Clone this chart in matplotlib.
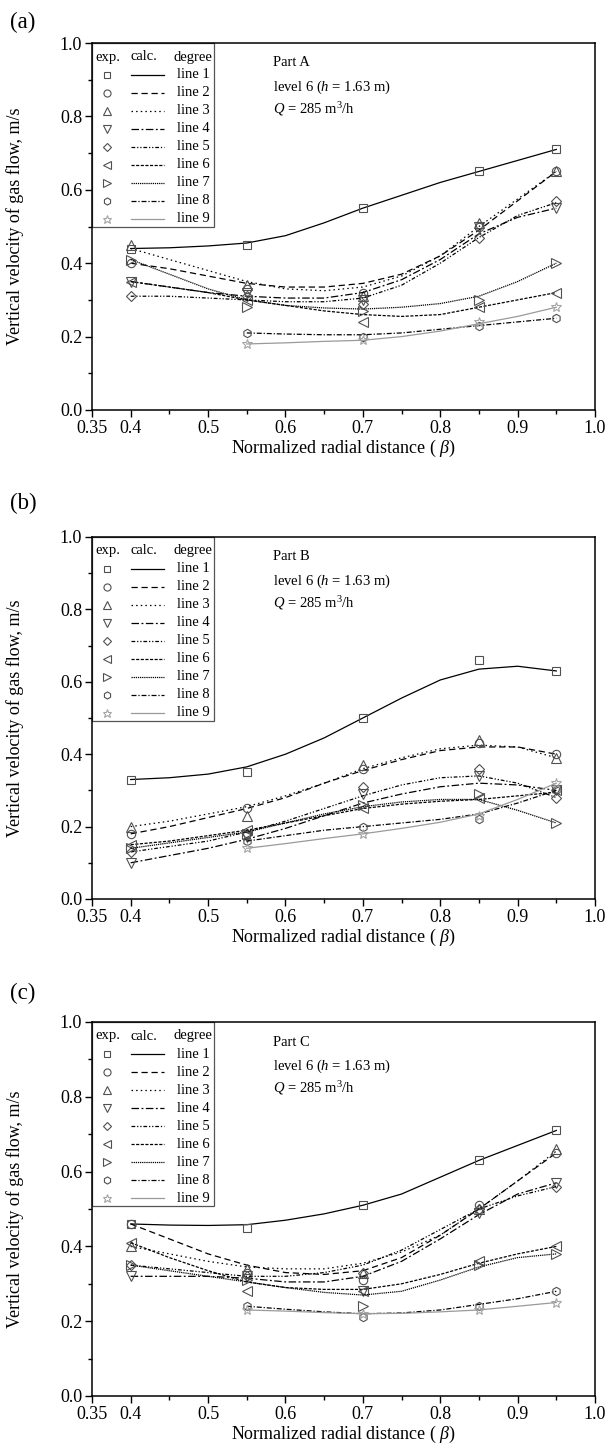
import numpy as np
import matplotlib
matplotlib.use('Agg')
import matplotlib.pyplot as plt
from matplotlib.patches import Rectangle

plt.rcParams['font.family'] = ['Liberation Serif', 'DejaVu Serif']
plt.rcParams['mathtext.fontset'] = 'custom'
plt.rcParams['mathtext.rm'] = 'Liberation Serif'
plt.rcParams['mathtext.it'] = 'Liberation Serif:italic'

nan = np.nan

beta_exp = [0.4, 0.55, 0.7, 0.85, 0.95]
beta_calc = [0.4, 0.45, 0.5, 0.55, 0.6, 0.65, 0.7, 0.75, 0.8, 0.85, 0.9, 0.95]
line_names = ['line 1', 'line 2', 'line 3', 'line 4', 'line 5',
              'line 6', 'line 7', 'line 8', 'line 9']

x_ticks = [0.35, 0.4, 0.5, 0.6, 0.7, 0.8, 0.9, 1.0]
x_ticklabels = ['0.35', '0.4', '0.5', '0.6', '0.7', '0.8', '0.9', '1.0']
y_ticks = [0.0, 0.2, 0.4, 0.6, 0.8, 1.0]
y_ticklabels = ['0.0', '0.2', '0.4', '0.6', '0.8', '1.0']

# Part A
exp_a = [
    [0.44, 0.45, 0.55, 0.65, 0.71],
    [0.40, 0.33, 0.32, 0.50, 0.65],
    [0.45, 0.34, 0.31, 0.51, 0.65],
    [0.35, 0.32, 0.30, 0.50, 0.55],
    [0.31, 0.31, 0.29, 0.47, 0.57],
    [0.35, 0.30, 0.24, 0.28, 0.32],
    [0.41, 0.28, 0.27, 0.30, 0.40],
    [nan, 0.21, 0.20, 0.23, 0.25],
    [nan, 0.18, 0.19, 0.24, 0.28],
]
calc_a = [
    [0.44, 0.442, 0.447, 0.455, 0.475, 0.51, 0.55, 0.585, 0.62, 0.65, 0.68, 0.71],
    [0.40, 0.385, 0.365, 0.345, 0.335, 0.335, 0.345, 0.37, 0.42, 0.49, 0.57, 0.65],
    [0.44, 0.41, 0.38, 0.35, 0.33, 0.325, 0.335, 0.365, 0.42, 0.50, 0.575, 0.65],
    [0.35, 0.335, 0.32, 0.31, 0.305, 0.305, 0.32, 0.355, 0.41, 0.48, 0.525, 0.55],
    [0.31, 0.31, 0.305, 0.30, 0.295, 0.295, 0.305, 0.34, 0.40, 0.47, 0.53, 0.565],
    [0.35, 0.335, 0.32, 0.30, 0.285, 0.27, 0.26, 0.255, 0.26, 0.28, 0.30, 0.32],
    [0.41, 0.37, 0.33, 0.30, 0.285, 0.278, 0.275, 0.28, 0.29, 0.31, 0.35, 0.40],
    [nan, nan, nan, 0.21, 0.207, 0.205, 0.205, 0.21, 0.22, 0.23, 0.24, 0.25],
    [nan, nan, nan, 0.18, 0.183, 0.187, 0.19, 0.20, 0.215, 0.235, 0.255, 0.28],
]

# Part B
exp_b = [
    [0.33, 0.35, 0.50, 0.66, 0.63],
    [0.18, 0.25, 0.36, 0.43, 0.40],
    [0.20, 0.23, 0.37, 0.44, 0.39],
    [0.10, 0.17, 0.29, 0.34, 0.30],
    [0.13, 0.18, 0.31, 0.36, 0.28],
    [0.15, 0.19, 0.25, 0.28, 0.30],
    [0.14, 0.18, 0.26, 0.29, 0.21],
    [nan, 0.16, 0.20, 0.22, 0.30],
    [nan, 0.14, 0.18, 0.23, 0.32],
]
calc_b = [
    [0.33, 0.335, 0.345, 0.365, 0.40, 0.445, 0.50, 0.555, 0.605, 0.635, 0.643, 0.63],
    [0.18, 0.20, 0.225, 0.25, 0.28, 0.32, 0.355, 0.385, 0.41, 0.42, 0.42, 0.40],
    [0.20, 0.215, 0.235, 0.255, 0.285, 0.32, 0.36, 0.39, 0.415, 0.425, 0.42, 0.39],
    [0.10, 0.12, 0.14, 0.165, 0.195, 0.23, 0.265, 0.29, 0.31, 0.32, 0.315, 0.30],
    [0.13, 0.145, 0.16, 0.185, 0.215, 0.25, 0.285, 0.315, 0.335, 0.34, 0.32, 0.28],
    [0.15, 0.16, 0.175, 0.19, 0.21, 0.23, 0.25, 0.262, 0.27, 0.275, 0.285, 0.295],
    [0.14, 0.155, 0.17, 0.185, 0.21, 0.235, 0.255, 0.268, 0.275, 0.275, 0.245, 0.21],
    [nan, nan, nan, 0.16, 0.175, 0.19, 0.20, 0.21, 0.22, 0.235, 0.265, 0.30],
    [nan, nan, nan, 0.14, 0.153, 0.167, 0.18, 0.195, 0.212, 0.235, 0.275, 0.32],
]

# Part C
exp_c = [
    [0.46, 0.45, 0.51, 0.63, 0.71],
    [0.46, 0.33, 0.31, 0.51, 0.65],
    [0.40, 0.34, 0.33, 0.50, 0.66],
    [0.32, 0.32, 0.28, 0.49, 0.57],
    [0.35, 0.32, 0.33, 0.50, 0.56],
    [0.41, 0.28, 0.28, 0.36, 0.40],
    [0.35, 0.31, 0.24, 0.35, 0.38],
    [nan, 0.24, 0.21, 0.24, 0.28],
    [nan, 0.23, 0.22, 0.23, 0.25],
]
calc_c = [
    [0.46, 0.457, 0.456, 0.458, 0.47, 0.487, 0.51, 0.54, 0.585, 0.63, 0.67, 0.71],
    [0.46, 0.42, 0.38, 0.35, 0.33, 0.325, 0.335, 0.37, 0.43, 0.50, 0.575, 0.65],
    [0.40, 0.38, 0.36, 0.345, 0.34, 0.34, 0.355, 0.385, 0.43, 0.50, 0.575, 0.655],
    [0.32, 0.32, 0.32, 0.315, 0.305, 0.305, 0.32, 0.36, 0.42, 0.485, 0.54, 0.57],
    [0.35, 0.34, 0.33, 0.32, 0.32, 0.33, 0.35, 0.39, 0.445, 0.50, 0.535, 0.56],
    [0.41, 0.37, 0.335, 0.305, 0.29, 0.285, 0.285, 0.30, 0.325, 0.355, 0.38, 0.40],
    [0.35, 0.335, 0.32, 0.305, 0.29, 0.277, 0.27, 0.28, 0.31, 0.345, 0.37, 0.38],
    [nan, nan, nan, 0.24, 0.232, 0.225, 0.22, 0.222, 0.23, 0.245, 0.26, 0.28],
    [nan, nan, nan, 0.23, 0.227, 0.223, 0.22, 0.221, 0.225, 0.23, 0.24, 0.25],
]

# styles
markers = ['s', 'o', '^', 'v', 'D', '<', '>', 'h', '*']
msizes = [5.5, 6, 6.5, 6.5, 4.8, 6.5, 6.5, 6, 7.5]
dashes = ['-', (0, (5, 3)), (0, (1.2, 2.5)), (0, (6, 2, 1.5, 2)),
          (0, (3, 1.5, 1, 1.5, 1, 1.5)), (0, (2.5, 1.2)), (0, (1, 0.7)),
          (0, (4, 1.5, 1, 1.5)), '-']
line_colors = ['black'] * 8 + ['#9a9a9a']
mk_colors = ['#505050'] * 8 + ['#a5a5a5']

W, H, DPI = 611, 1452, 100
fig = plt.figure(figsize=(W / DPI, H / DPI), dpi=DPI)

# axes boxes in pixels: (left, top, right, bottom)
boxes = [(92, 43, 595, 410), (92, 537, 595, 899), (92, 1022, 595, 1396)]


def draw_panel(box, exp, calc, part, tag, tag_y):
    l, t, r, b = box
    ax = fig.add_axes([l / W, 1 - b / H, (r - l) / W, (b - t) / H])
    wpx, hpx = r - l, b - t

    def fx(px):
        return px / wpx

    def fy(py):
        return 1 - py / hpx

    for k in range(9):
        ax.plot(beta_calc, calc[k], color=line_colors[k], ls=dashes[k], lw=0.9)
        ax.plot(beta_exp, exp[k], ls='none', marker=markers[k], ms=msizes[k],
                mfc='none', mec=mk_colors[k], mew=0.8)

    ax.set_xlim(0.35, 1.0)
    ax.set_ylim(0, 1.0)
    ax.set_xticks(x_ticks)
    ax.set_xticklabels(x_ticklabels)
    ax.set_xticks(np.arange(0.45, 0.96, 0.1), minor=True)
    ax.set_yticks(y_ticks)
    ax.set_yticklabels(y_ticklabels)
    ax.set_yticks([0.1, 0.3, 0.5, 0.7, 0.9], minor=True)
    ax.tick_params(which='major', direction='out', length=5, width=1,
                   labelsize=13, pad=2)
    ax.tick_params(which='minor', direction='out', length=3, width=1)
    for s in ax.spines.values():
        s.set_linewidth(1.1)

    ax.set_xlabel(r'Normalized radial distance ( $\beta$)', fontsize=13, labelpad=1)
    ax.set_ylabel('Vertical velocity of gas flow, m/s', fontsize=13)
    ax.yaxis.set_label_coords(-0.135, 0.5)

    # legend table
    ax.add_patch(Rectangle((0, fy(184)), fx(122), 1 - fy(184), transform=ax.transAxes,
                           fill=False, ec='#555555', lw=0.9, clip_on=False))
    ax.text(fx(16), fy(14), 'exp.', transform=ax.transAxes, ha='center', va='center', fontsize=10.5)
    ax.text(fx(52), fy(14), 'calc.', transform=ax.transAxes, ha='center', va='center', fontsize=10.5)
    ax.text(fx(101), fy(14), 'degree', transform=ax.transAxes, ha='center', va='center', fontsize=10.5)
    for k in range(9):
        yy = fy(32 + 18 * k)
        ax.plot([fx(15)], [yy], transform=ax.transAxes, ls='none', marker=markers[k],
                ms=msizes[k] * 0.85, mfc='none', mec=mk_colors[k], mew=0.8, clip_on=False)
        ax.plot([fx(39), fx(72)], [yy, yy], transform=ax.transAxes, color=line_colors[k],
                ls=dashes[k], lw=0.9, clip_on=False)
        ax.text(fx(118), yy, line_names[k], transform=ax.transAxes, ha='right',
                va='center', fontsize=10.5)

    ax.text(fx(181), fy(20), 'Part ' + part, transform=ax.transAxes, va='center', fontsize=10.5)
    ax.text(fx(181), fy(44), r'level 6 ($h$ = 1.63 m)', transform=ax.transAxes,
            va='center', fontsize=10.5)
    ax.text(fx(181), fy(66), r'$Q$ = 285 m$^3$/h', transform=ax.transAxes,
            va='center', fontsize=10.5)

    fig.text(10 / W, 1 - tag_y / H, tag, fontsize=16.5, va='center', ha='left')
    return ax


draw_panel(boxes[0], exp_a, calc_a, 'A', '(a)', 22)
draw_panel(boxes[1], exp_b, calc_b, 'B', '(b)', 503)
draw_panel(boxes[2], exp_c, calc_c, 'C', '(c)', 993)

fig.savefig('out.png', dpi=DPI)
